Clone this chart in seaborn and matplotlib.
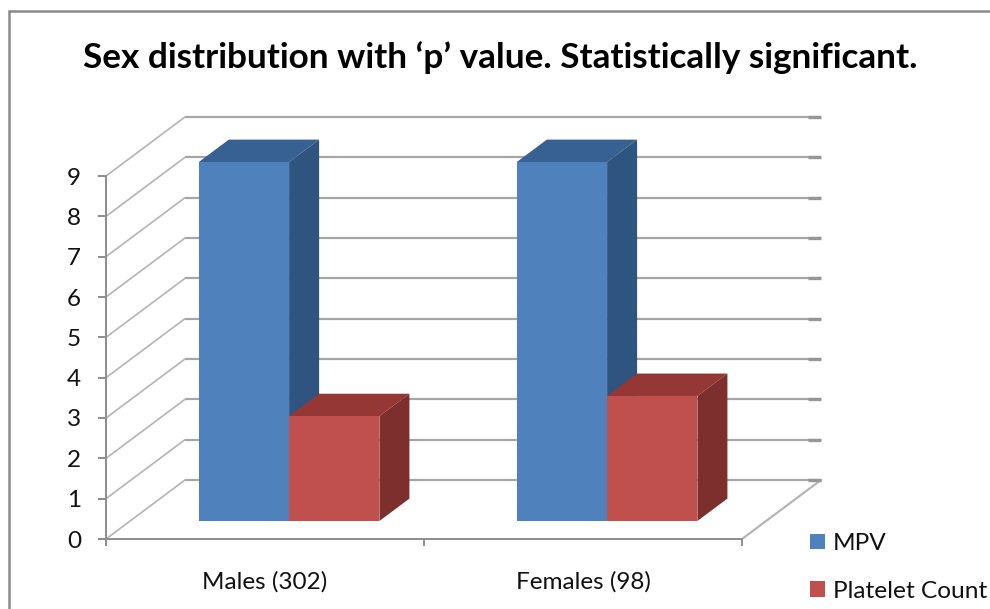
import matplotlib
matplotlib.use("Agg")
import matplotlib.pyplot as plt
from matplotlib.lines import Line2D
import pandas as pd
import seaborn as sns

# Chart values
groups = ["Males (302)", "Females (98)"]
series_names = ["MPV", "Platelet Count"]
mpv_values = [8.9, 8.9]
platelet_values = [2.6, 3.1]
y_ticks = list(range(10))

# Colours: front, top and side face of each series
front_colors = {"MPV": "#4F81BD", "Platelet Count": "#C0504D"}
top_colors = {"MPV": "#376192", "Platelet Count": "#953735"}
side_colors = {"MPV": "#2F5480", "Platelet Count": "#7D2F2D"}
grid_color = "#A6A6A6"
axis_color = "#8C8C8C"
text_color = "#111111"

W, H = 990, 609
sns.set_theme(style="white")
plt.rcParams["font.family"] = ["Lato", "DejaVu Sans"]

df = pd.DataFrame({
    "group": groups * 2,
    "series": [series_names[0]] * 2 + [series_names[1]] * 2,
    "value": mpv_values + platelet_values,
})

fig = plt.figure(figsize=(W / 100, H / 100), dpi=100, facecolor="white")
ax = fig.add_axes([106 / W, 1 - 539 / H, 636 / W, 363 / H])
ax.set_facecolor("none")

# Oblique projection of the chart's depth axis, in data units
depth_x, depth_y = 0.2484, 1.463
bar_plane = 0.305    # bars stand this far back on the floor
bar_depth = 0.38     # thickness of a bar along the depth axis
shift_x, base_y = depth_x * bar_plane, depth_y * bar_plane
dx, dy = depth_x * bar_depth, depth_y * bar_depth

sns.barplot(
    data=df, x="group", y="value", hue="series", order=groups,
    hue_order=series_names, palette=front_colors, width=0.568, gap=0,
    linewidth=0, saturation=1, clip_on=False, zorder=4,
    errorbar=None, ax=ax,
)
ax.set_xlim(-0.5, 1.5)
ax.set_ylim(0, 9)
ax.set_xlabel("")
ax.set_ylabel("")

# Back wall gridlines, wall diagonals and tick stubs at the far end
for t in y_ticks:
    ax.plot([-0.5 + depth_x, 1.5 + depth_x], [t + depth_y] * 2, color=grid_color,
            lw=1.6, clip_on=False, zorder=1, solid_capstyle="butt")
    ax.plot([-0.5, -0.5 + depth_x], [t, t + depth_y], color="#B4B4B4",
            lw=1.2, clip_on=False, zorder=1)
    ax.plot([1.5 + depth_x - 0.04, 1.5 + depth_x], [t + depth_y] * 2, color="#969696",
            lw=2.4, clip_on=False, zorder=2, solid_capstyle="butt")

# Floor edge on the right
ax.plot([1.5, 1.5 + depth_x], [0, depth_y], color="#B5B5B5", lw=1.6,
        clip_on=False, zorder=1)

# Lift each bar onto its floor plane, then extrude top and side faces from it
for container, name in zip(ax.containers, series_names):
    for bar in container:
        bar.set_x(bar.get_x() + shift_x)
        bar.set_y(base_y)
        x0, x1 = bar.get_x(), bar.get_x() + bar.get_width()
        y0, y1 = bar.get_y(), bar.get_y() + bar.get_height()
        z = 2 if name == series_names[0] else 3
        ax.fill([x0, x1, x1 + dx, x0 + dx], [y1, y1, y1 + dy, y1 + dy],
                color=top_colors[name], lw=0, clip_on=False, zorder=z)
        ax.fill([x1, x1 + dx, x1 + dx, x1], [y0, y0 + dy, y1 + dy, y1],
                color=side_colors[name], lw=0, clip_on=False, zorder=z)

# Axes: value ticks on the left, category boundaries along the floor
sns.despine(ax=ax, top=True, right=True)
for side in ("left", "bottom"):
    ax.spines[side].set_color(axis_color)
    ax.spines[side].set_linewidth(1.4)
ax.set_yticks(y_ticks)
ax.set_yticklabels([str(t) for t in y_ticks])
ax.set_xticks([-0.5, 0.5, 1.5])
ax.set_xticklabels([])
ax.set_xticks([0, 1], labels=groups, minor=True)
ax.tick_params(axis="y", length=6, width=1.4, color=axis_color, pad=12,
               labelsize=17.5, labelcolor=text_color, left=True)
ax.tick_params(axis="x", which="major", length=5, width=1.4, color=axis_color, bottom=True)
ax.tick_params(axis="x", which="minor", length=0, pad=23, labelsize=17.5,
               labelcolor=text_color, bottom=False)

# Legend in the lower right corner
sns.move_legend(
    ax, "upper left", bbox_to_anchor=(810 / W, 1 - 533 / H),
    bbox_transform=fig.transFigure, frameon=False, title=None, fontsize=17.6,
    handlelength=0.61, handleheight=0.61, handletextpad=0.33,
    labelspacing=1.1, borderpad=0, borderaxespad=0,
)
for label in ax.get_legend().get_texts():
    label.set_color(text_color)

fig.text(500 / W, 1 - 58 / H, "Sex distribution with ‘p’ value. Statistically significant.",
         ha="center", va="center", fontsize=25.3, fontweight="bold", color="black")

# Outer chart border
border = dict(color="#8A8A8A", lw=1.8, transform=fig.transFigure)
fig.add_artist(Line2D([9 / W, 9 / W], [0, 1 - 11 / H], **border))
fig.add_artist(Line2D([9 / W, 1], [1 - 11 / H, 1 - 11 / H], **border))

fig.savefig("out.png", dpi=100)
